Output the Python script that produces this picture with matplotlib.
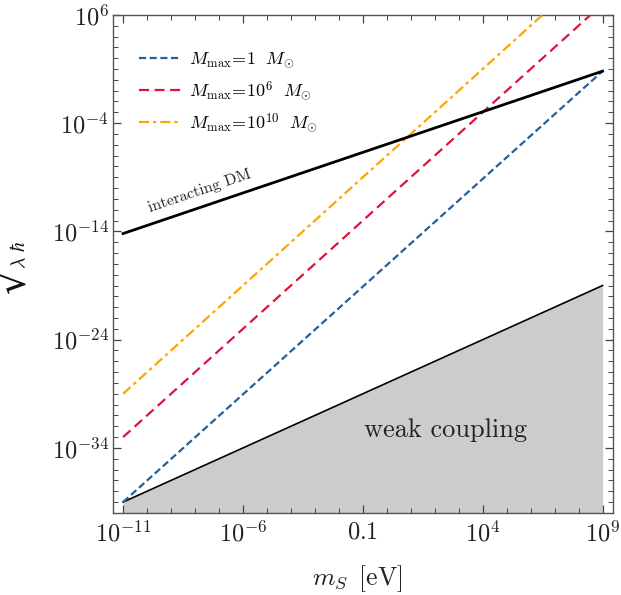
import matplotlib
matplotlib.use("Agg")
import matplotlib.pyplot as plt
import numpy as np

plt.rcParams['mathtext.fontset'] = 'cm'
plt.rcParams['font.family'] = ['cmr10', 'DejaVu Serif']
plt.rcParams['axes.unicode_minus'] = False

# ---- data ----
ms_full = [1e-11, 1e9]
y_M1 = [1e-39, 10**0.8]
ms_M6 = [1e-11, 10**8.5]
y_M6 = [1e-33, 1e6]
ms_M10 = [1e-11, 10**6.5]
y_M10 = [1e-29, 1e6]
y_interact = [10**-14.2, 10**0.8]
y_weak = [1e-39, 1e-19]

legend_labels = [r"$M_{\rm max}\!=\!1\ \ M_{\odot}$",
                 r"$M_{\rm max}\!=\!10^{6}\ \ M_{\odot}$",
                 r"$M_{\rm max}\!=\!10^{10}\ \ M_{\odot}$"]
xticks = [1e-11, 1e-6, 1e-1, 1e4, 1e9]
xticklabels = [r"$10^{-11}$", r"$10^{-6}$", r"$0.1$", r"$10^{4}$", r"$10^{9}$"]
yticks = [1e-34, 1e-24, 1e-14, 1e-4, 1e6]
yticklabels = [r"$10^{-34}$", r"$10^{-24}$", r"$10^{-14}$", r"$10^{-4}$", r"$10^{6}$"]

blue = '#24609c'
red = '#dc143c'
orange = '#ffa500'

fig = plt.figure(figsize=(6.21, 5.95), dpi=100)
ax = fig.add_axes([0.182, 0.138, 0.8045, 0.837])
ax.set_xscale('log')
ax.set_yscale('log')
ax.set_xlim(10**-11.42, 10**9.42)
ax.set_ylim(1e-40, 1e6)

# weak coupling region
ax.fill_between(ms_full, y_weak, 1e-40, color='#cccccc', lw=0, zorder=1)
ax.plot(ms_full, y_weak, color='black', lw=1.2, zorder=3)

ax.plot(ms_full, y_M1, color=blue, lw=1.6, dashes=(3.2, 1.6), label=legend_labels[0], zorder=4)
ax.plot(ms_M6, y_M6, color=red, lw=1.6, dashes=(4.5, 2.5), label=legend_labels[1], zorder=4)
ax.plot(ms_M10, y_M10, color=orange, lw=1.6, dashes=(4.5, 1.8, 1.5, 1.8), label=legend_labels[2], zorder=4)
ax.plot(ms_full, y_interact, color='black', lw=2.0, zorder=5)

ax.text(10**-7.7, 10**-10.9, "interacting DM", fontsize=11.5, rotation=18.7,
        rotation_mode='anchor', ha='center', va='bottom', color='#222222')
ax.text(10**2.45, 10**-32.4, "weak coupling", fontsize=19, ha='center', va='center',
        color='#222222')

ax.set_xticks(xticks)
ax.set_xticklabels(xticklabels)
ax.set_yticks(yticks)
ax.set_yticklabels(yticklabels)
ax.xaxis.set_minor_locator(matplotlib.ticker.FixedLocator([10.0**k for k in range(-11, 10)]))
ax.yaxis.set_minor_locator(matplotlib.ticker.FixedLocator([10.0**k for k in range(-40, 7)]))
ax.xaxis.set_minor_formatter(matplotlib.ticker.NullFormatter())
ax.yaxis.set_minor_formatter(matplotlib.ticker.NullFormatter())
ax.tick_params(which='both', direction='in', top=True, right=True, colors='#444444',
               labelcolor='#222222')
ax.tick_params(which='major', length=6, width=0.9, labelsize=17.5)
ax.tick_params(axis='x', which='major', pad=6)
ax.tick_params(axis='y', which='major', pad=3)
ax.tick_params(which='minor', length=3.5, width=0.7)
for s in ax.spines.values():
    s.set_color('#555555')
    s.set_linewidth(1.0)

fig.text(0.575, 0.027, r"$m_S\ \,[\mathrm{eV}]$", fontsize=18.5, ha='center', va='center', color='#222222')
# y label: radical sign with lambda hbar
fig.text(0.027, 0.527, "$\u221a$", fontsize=28, rotation=90, ha='center', va='center',
         math_fontfamily='dejavusans', color='#111111')
fig.text(0.031, 0.572, r"$\lambda\ \hbar$", fontsize=14, rotation=90, ha='center', va='center',
         color='#111111')

leg = ax.legend(loc='upper left', bbox_to_anchor=(0.02, 0.96), frameon=False, fontsize=13,
                handlelength=2.3, handletextpad=0.45, labelspacing=0.5)

fig.savefig('out.png', dpi=100)
